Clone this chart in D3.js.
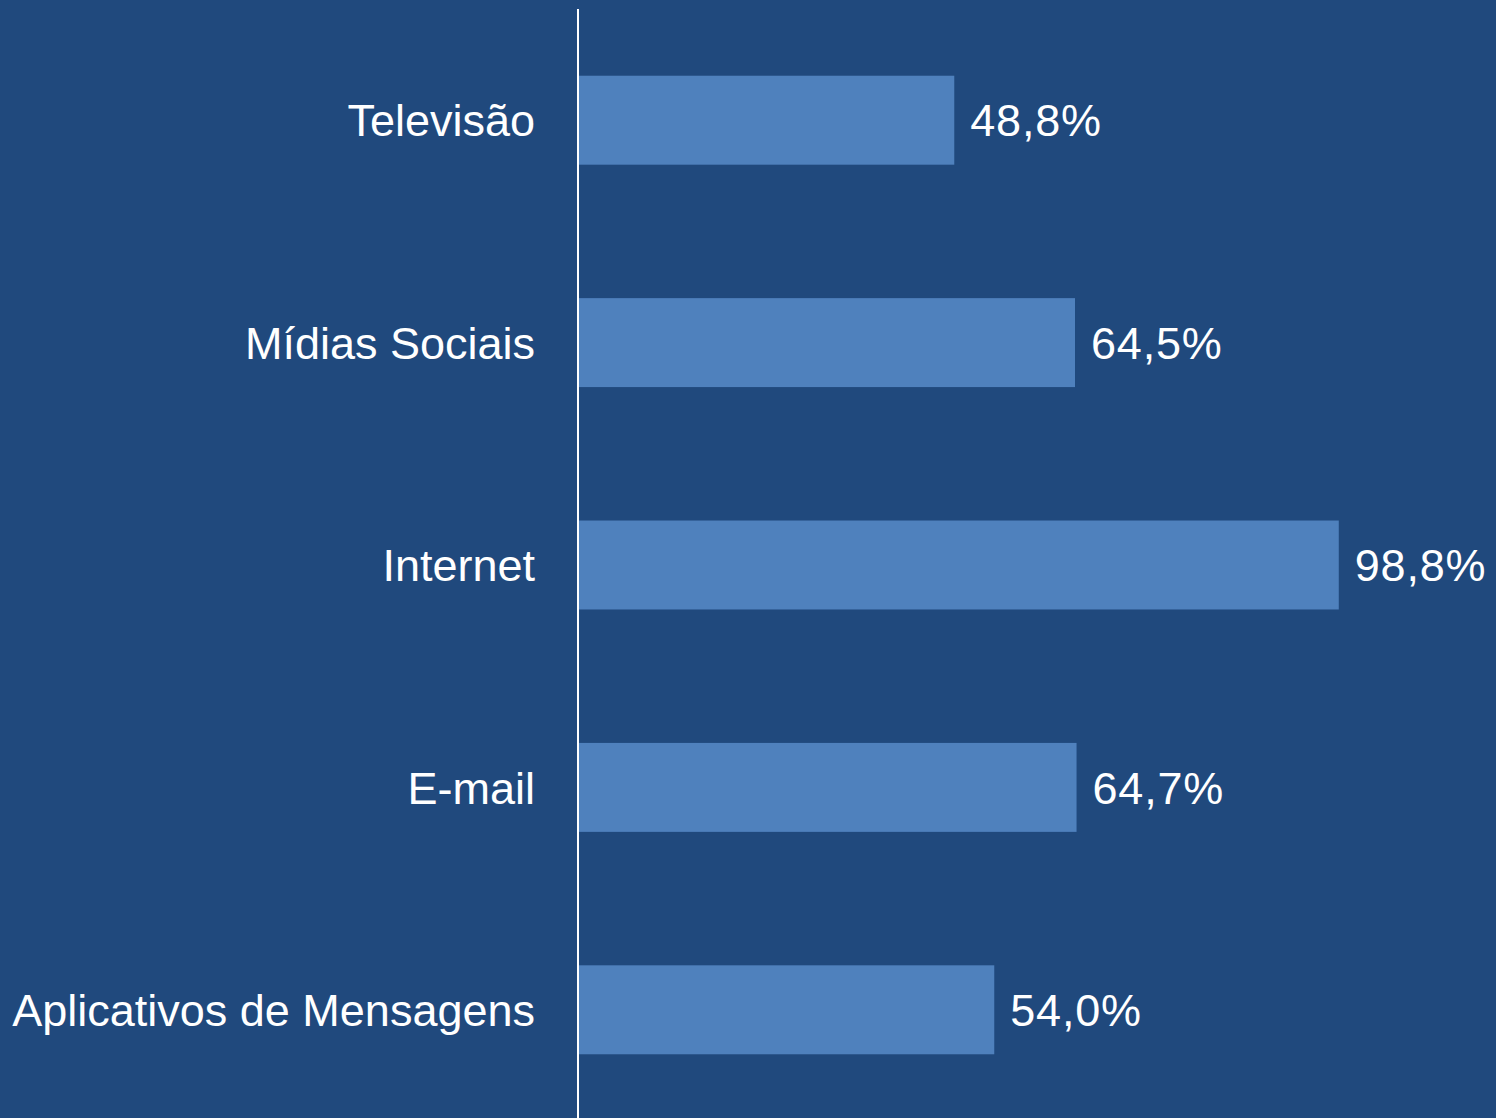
<!DOCTYPE html>
<html><head><meta charset="utf-8">
<script src="https://cdn.jsdelivr.net/npm/d3@7"></script>
<style>html,body{margin:0;padding:0;background:#20497D;}svg{display:block;}</style>
</head><body>
<svg id="c" width="1496" height="1118"></svg>
<script>
const categories = ["Televisão","Mídias Sociais","Internet","E-mail","Aplicativos de Mensagens"];
const values = [48.8, 64.5, 98.8, 64.7, 54.0];
const valueLabels = ["48,8%","64,5%","98,8%","64,7%","54,0%"];

const W = 1496, H = 1118;
const svg = d3.select("#c");
svg.append("rect").attr("width",W).attr("height",H).attr("fill","#20497D");
const x0 = 579;
const x = d3.scaleLinear().domain([0,100]).range([x0, x0 + 769]);
const y = d3.scaleBand().domain(categories).range([9, 1121]).paddingInner(0.6).paddingOuter(0.3);
const font = "'Liberation Sans', Arial, sans-serif";

svg.selectAll("rect.bar").data(categories).enter().append("rect")
  .attr("class","bar")
  .attr("x", x(0))
  .attr("y", d => y(d))
  .attr("width", (d,i) => x(values[i]) - x(0))
  .attr("height", y.bandwidth())
  .attr("fill","#4F81BD");

svg.append("line").attr("x1",578).attr("x2",578).attr("y1",9).attr("y2",H)
  .attr("stroke","#ffffff").attr("stroke-width",2);

svg.selectAll("text.cat").data(categories).enter().append("text")
  .attr("class","cat")
  .attr("x",535)
  .attr("y", d => y(d) + y.bandwidth()/2)
  .attr("dy","0.36em")
  .attr("text-anchor","end")
  .attr("fill","#ffffff")
  .style("font-family",font).style("font-size","45px")
  .text(d => d);

svg.selectAll("text.val").data(categories).enter().append("text")
  .attr("class","val")
  .attr("x",(d,i) => x(values[i]) + 16)
  .attr("y", d => y(d) + y.bandwidth()/2)
  .attr("dy","0.36em")
  .attr("fill","#ffffff")
  .style("font-family",font).style("font-size","45px")
  .style("letter-spacing","0.8px")
  .text((d,i) => valueLabels[i]);
</script>
</body></html>
